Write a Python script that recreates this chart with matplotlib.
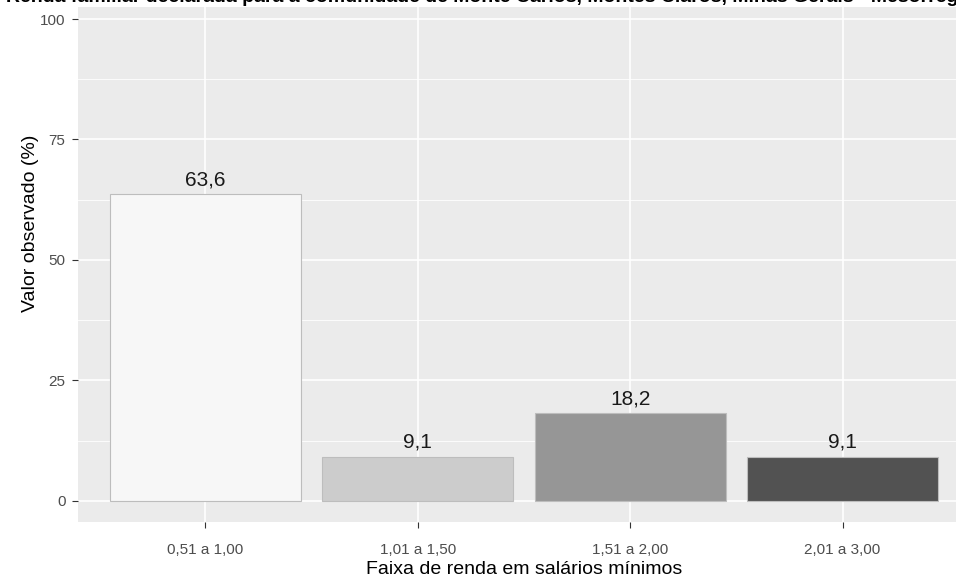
import numpy as np
import matplotlib.pyplot as plt

# dados
faixas = ["0,51 a 1,00", "1,01 a 1,50", "1,51 a 2,00", "2,01 a 3,00"]
valores = [63.6, 9.1, 18.2, 9.1]
rotulos = ["63,6", "9,1", "18,2", "9,1"]
cores = ["#F7F7F7", "#CCCCCC", "#969696", "#525252"]
titulo = "Renda familiar declarada para a comunidade de Monte Carlos, Montes Claros, Minas Gerais - Mesorregião Norte"

plt.rcParams['font.family'] = ['Liberation Sans', 'DejaVu Sans']

W, H = 956, 581
fig = plt.figure(figsize=(W / 100, H / 100), dpi=100)
# painel estilo ggplot, cortado à direita
ax = fig.add_axes([78 / W, 1 - 522 / H, (970 - 78) / W, (522 - 7) / H])
ax.set_facecolor("#EBEBEB")

x = np.arange(1, len(faixas) + 1)
ax.set_xlim(0.4, 4.6)
ax.set_ylim(-4.4, 102.5)

# grade
for v in [12.5, 37.5, 62.5, 87.5]:
    ax.axhline(v, color="white", lw=0.6, zorder=0)
for v in [0, 25, 50, 75, 100]:
    ax.axhline(v, color="white", lw=1.2, zorder=0)
for xi in x:
    ax.axvline(xi, color="white", lw=1.2, zorder=0)

ax.bar(x, valores, width=0.9, color=cores, edgecolor="#BDBDBD", linewidth=0.8, zorder=2)
for xi, v, r in zip(x, valores, rotulos):
    ax.annotate(r, (xi, v), xytext=(0, 6.5), textcoords="offset points",
                ha="center", va="baseline", fontsize=15, color="#1A1A1A", zorder=3)

for s in ax.spines.values():
    s.set_visible(False)

ax.set_xticks(x)
ax.set_xticklabels(faixas)
ax.set_yticks([0, 25, 50, 75, 100])
ax.tick_params(axis="both", colors="#333333", labelcolor="#4D4D4D", labelsize=11, length=4, width=0.8)
ax.tick_params(axis="x", pad=11)
ax.tick_params(axis="y", pad=5)

ax.set_xlabel("Faixa de renda em salários mínimos", fontsize=14, color="black", labelpad=3)
ax.set_ylabel("Valor observado (%)", fontsize=14, color="black")
ax.yaxis.set_label_coords(-0.044, 0.58)

fig.text(524 / W, 1 - 2 / H, titulo, ha="center", va="baseline", fontsize=14, fontweight="bold")

fig.savefig("out.png", dpi=100, facecolor="white")
